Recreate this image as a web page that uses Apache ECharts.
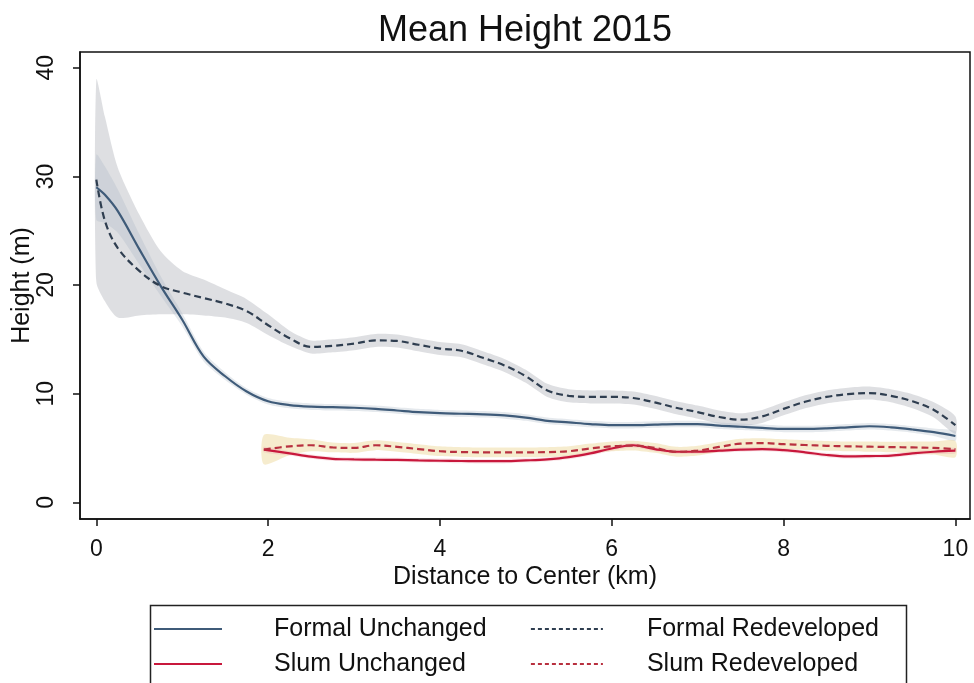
<!DOCTYPE html>
<html>
<head>
<meta charset="utf-8">
<title>Mean Height 2015</title>
<script src="https://cdn.jsdelivr.net/npm/echarts@6/dist/echarts.min.js"></script>
<style>
  html, body { margin: 0; padding: 0; background: #fff; }
  #chart { width: 974px; height: 683px; }
</style>
</head>
<body>
<div id="chart"></div>
<script>
// Distance to center (km) for the formal-housing fits
const formalX = [0, 0.1, 0.25, 0.5, 0.75, 1, 1.25, 1.5, 1.75, 2, 2.25, 2.5, 2.75, 3, 3.25, 3.5, 3.75, 4, 4.25, 4.5, 4.75, 5, 5.25, 5.5, 5.75, 6, 6.25, 6.5, 6.75, 7, 7.25, 7.5, 7.75, 8, 8.25, 8.5, 8.75, 9, 9.25, 9.5, 9.75, 10];

const formalUnchanged   = [29.0, 28.3, 26.8, 23.3, 19.9, 16.8, 13.4, 11.6, 10.2, 9.3, 8.95, 8.8, 8.75, 8.7, 8.6, 8.45, 8.3, 8.2, 8.15, 8.1, 8.0, 7.8, 7.5, 7.35, 7.2, 7.1, 7.1, 7.15, 7.2, 7.2, 7.05, 6.95, 6.85, 6.75, 6.75, 6.8, 6.9, 7.0, 6.9, 6.7, 6.45, 6.1];
const formalUnchangedLo = [26.0, 25.7, 24.8, 21.9, 19.0, 16.2, 12.95, 11.25, 9.9, 9.0, 8.65, 8.5, 8.45, 8.4, 8.3, 8.15, 8.0, 7.9, 7.85, 7.8, 7.7, 7.5, 7.2, 7.05, 6.9, 6.8, 6.8, 6.85, 6.9, 6.9, 6.75, 6.65, 6.55, 6.45, 6.45, 6.5, 6.6, 6.7, 6.6, 6.4, 6.1, 5.65];
const formalUnchangedHi = [32.0, 30.9, 28.8, 24.7, 20.8, 17.4, 13.85, 11.95, 10.5, 9.6, 9.25, 9.1, 9.05, 9.0, 8.9, 8.75, 8.6, 8.5, 8.45, 8.4, 8.3, 8.1, 7.8, 7.65, 7.5, 7.4, 7.4, 7.45, 7.5, 7.5, 7.35, 7.25, 7.15, 7.05, 7.05, 7.1, 7.2, 7.3, 7.2, 7.0, 6.8, 6.55];

const formalRedeveloped   = [29.7, 25.9, 23.4, 21.3, 19.9, 19.3, 18.8, 18.3, 17.6, 16.3, 15.1, 14.3, 14.4, 14.6, 14.9, 14.85, 14.5, 14.15, 13.95, 13.3, 12.6, 11.6, 10.3, 9.8, 9.7, 9.7, 9.6, 9.2, 8.7, 8.3, 7.85, 7.6, 7.9, 8.6, 9.25, 9.7, 9.95, 10.05, 9.8, 9.3, 8.5, 7.1];
const formalRedevelopedLo = [20.3, 18.5, 17.0, 17.2, 17.3, 17.3, 17.2, 17.0, 16.5, 15.4, 14.4, 13.7, 13.8, 14.0, 14.3, 14.25, 13.9, 13.55, 13.35, 12.7, 12.0, 11.0, 9.7, 9.2, 9.1, 9.1, 9.0, 8.6, 8.1, 7.7, 7.25, 7.0, 7.3, 8.0, 8.65, 9.1, 9.35, 9.45, 9.2, 8.65, 7.8, 6.3];
const formalRedevelopedHi = [38.9, 35.5, 30.8, 26.5, 23.1, 21.3, 20.5, 19.6, 18.7, 17.3, 15.8, 14.9, 15.0, 15.2, 15.5, 15.45, 15.1, 14.75, 14.55, 13.9, 13.2, 12.2, 10.9, 10.4, 10.3, 10.3, 10.2, 9.8, 9.3, 8.9, 8.45, 8.2, 8.5, 9.2, 9.85, 10.3, 10.55, 10.65, 10.4, 9.95, 9.2, 7.9];

// Distance to center (km) for the slum fits
const slumX = [1.95, 2.25, 2.5, 2.75, 3, 3.25, 3.5, 3.75, 4, 4.25, 4.5, 4.75, 5, 5.25, 5.5, 5.75, 6, 6.25, 6.5, 6.75, 7, 7.25, 7.5, 7.75, 8, 8.25, 8.5, 8.75, 9, 9.25, 9.5, 9.75, 10];

const slumUnchanged   = [4.85, 4.5, 4.2, 4.0, 3.95, 3.92, 3.9, 3.85, 3.82, 3.8, 3.78, 3.78, 3.85, 3.95, 4.15, 4.5, 4.95, 5.25, 4.9, 4.65, 4.65, 4.75, 4.85, 4.9, 4.8, 4.6, 4.35, 4.22, 4.25, 4.3, 4.5, 4.65, 4.75];
const slumUnchangedLo = [4.6, 4.3, 4.0, 3.8, 3.75, 3.72, 3.7, 3.65, 3.62, 3.6, 3.58, 3.58, 3.65, 3.75, 3.95, 4.3, 4.75, 5.05, 4.7, 4.45, 4.45, 4.55, 4.65, 4.7, 4.6, 4.4, 4.15, 4.02, 4.05, 4.1, 4.3, 4.45, 4.5];
const slumUnchangedHi = [5.1, 4.7, 4.4, 4.2, 4.15, 4.12, 4.1, 4.05, 4.02, 4.0, 3.98, 3.98, 4.05, 4.15, 4.35, 4.7, 5.15, 5.45, 5.1, 4.85, 4.85, 4.95, 5.05, 5.1, 5.0, 4.8, 4.55, 4.42, 4.45, 4.5, 4.7, 4.85, 5.0];

const slumRedeveloped   = [4.85, 5.15, 5.25, 5.05, 5.0, 5.25, 5.1, 4.9, 4.7, 4.62, 4.6, 4.6, 4.6, 4.62, 4.7, 4.95, 5.15, 5.22, 5.0, 4.65, 4.75, 5.1, 5.4, 5.45, 5.35, 5.27, 5.2, 5.15, 5.12, 5.08, 5.05, 5.0, 4.9];
const slumRedevelopedLo = [3.5, 4.35, 4.7, 4.6, 4.55, 4.8, 4.65, 4.45, 4.25, 4.17, 4.15, 4.15, 4.15, 4.17, 4.25, 4.5, 4.7, 4.77, 4.55, 4.2, 4.3, 4.65, 4.95, 5.0, 4.9, 4.82, 4.75, 4.7, 4.65, 4.6, 4.5, 4.4, 4.15];
const slumRedevelopedHi = [6.2, 5.95, 5.8, 5.5, 5.45, 5.7, 5.55, 5.35, 5.15, 5.07, 5.05, 5.05, 5.05, 5.07, 5.15, 5.4, 5.6, 5.67, 5.45, 5.1, 5.2, 5.55, 5.85, 5.9, 5.8, 5.72, 5.65, 5.6, 5.59, 5.56, 5.6, 5.6, 5.65];

// Axis ticks
const xTicks = [0, 2, 4, 6, 8, 10];
const yTicks = [0, 10, 20, 30, 40];

const FONT = '"Liberation Sans", Arial, Helvetica, sans-serif';

const pairs = (xs, ys) => xs.map((x, i) => [x, ys[i]]);

// Confidence band: polygon along the upper edge, back along the lower edge
function band(xs, lo, hi, color) {
  return {
    type: 'custom', silent: true, clip: true, z: 1,
    data: pairs(xs, lo),
    encode: { x: 0, y: 1 },
    renderItem: function (params, api) {
      if (params.dataIndex !== 0) return null;
      const top = xs.map((x, i) => api.coord([x, hi[i]]));
      const bottom = xs.map((x, i) => api.coord([x, lo[i]])).reverse();
      return {
        type: 'polygon',
        shape: { points: top.concat(bottom), smooth: 0.25 },
        style: { fill: color, stroke: 'none' }
      };
    }
  };
}

function fit(name, xs, ys, color, dashed) {
  return {
    type: 'line', name: name, data: pairs(xs, ys),
    symbol: 'none', smooth: 0.35, z: 3,
    lineStyle: { color: color, width: 2.2, type: dashed ? [7, 4] : 'solid' },
    itemStyle: { color: color }
  };
}

const C_FU = '#3f5b79';
const C_FR = '#2f3e50';
const C_SU = '#c8183c';
const C_SR = '#b8303f';

const series = [
  band(formalX, formalRedevelopedLo, formalRedevelopedHi, 'rgba(172,176,182,0.4)'),
  band(formalX, formalUnchangedLo, formalUnchangedHi, 'rgba(170,182,196,0.3)'),
  band(slumX, slumRedevelopedLo, slumRedevelopedHi, 'rgba(232,205,125,0.38)'),
  band(slumX, slumUnchangedLo, slumUnchangedHi, 'rgba(235,150,165,0.25)'),
  fit('Formal Unchanged', formalX, formalUnchanged, C_FU, false),
  fit('Formal Redeveloped', formalX, formalRedeveloped, C_FR, true),
  fit('Slum Unchanged', slumX, slumUnchanged, C_SU, false),
  fit('Slum Redeveloped', slumX, slumRedeveloped, C_SR, true)
];

function legendItem(name, left, top, iconW, gap, dashed) {
  return {
    data: [name], left: left, top: top, padding: 0,
    itemWidth: iconW, itemHeight: 14, selectedMode: false,
    itemStyle: { opacity: 0 },
    lineStyle: dashed ? { type: [4, 3], width: 1.8 } : { width: 2 },
    textStyle: { fontFamily: FONT, fontSize: 25, color: '#111', lineHeight: 28, padding: [0, 0, 0, gap] }
  };
}

const axisLineStyle = { color: '#111', width: 1.5 };

const chart = echarts.init(document.getElementById('chart'), null, { renderer: 'canvas' });
chart.setOption({
  backgroundColor: '#fff',
  animation: false,
  title: {
    text: 'Mean Height 2015', left: 520, top: 8, textAlign: 'center',
    textStyle: { fontFamily: FONT, fontSize: 36, fontWeight: 'normal', color: '#111' }
  },
  grid: {
    left: 80, right: 4, top: 52, bottom: 164,
    containLabel: false, outerBoundsMode: 'none',
    show: true, borderColor: '#111', borderWidth: 1.5, backgroundColor: '#fff'
  },
  xAxis: {
    type: 'value', min: -0.19, max: 10.17,
    name: 'Distance to Center (km)', nameLocation: 'middle', nameGap: 46, nameMoveOverlap: false,
    nameTextStyle: { fontFamily: FONT, fontSize: 25, color: '#111' },
    axisLine: { show: true, onZero: false, lineStyle: axisLineStyle },
    axisTick: { show: true, length: 7, lineStyle: axisLineStyle, customValues: xTicks },
    axisLabel: { fontFamily: FONT, fontSize: 23, color: '#111', margin: 19, customValues: xTicks },
    splitLine: { show: false }
  },
  yAxis: {
    type: 'value', min: -1.54, max: 41.45,
    name: 'Height (m)', nameLocation: 'middle', nameGap: 45, nameMoveOverlap: false,
    nameTextStyle: { fontFamily: FONT, fontSize: 25, color: '#111' },
    axisLine: { show: true, onZero: false, lineStyle: axisLineStyle },
    axisTick: { show: true, length: 7, lineStyle: axisLineStyle, customValues: yTicks },
    axisLabel: { fontFamily: FONT, fontSize: 23, color: '#111', margin: 22, rotate: 90, customValues: yTicks },
    splitLine: { show: false }
  },
  legend: [
    legendItem('Formal Unchanged', 153, 615, 68, 47, false),
    legendItem('Formal Redeveloped', 530, 615, 72, 39, true),
    legendItem('Slum Unchanged', 153, 650, 68, 47, false),
    legendItem('Slum Redeveloped', 530, 650, 72, 39, true)
  ],
  graphic: [
    {
      type: 'rect', left: 148, top: 603, silent: true,
      shape: { width: 756, height: 100 },
      style: { fill: 'none', stroke: '#222', lineWidth: 1.5 }
    }
  ],
  series: series
});
</script>
</body>
</html>
